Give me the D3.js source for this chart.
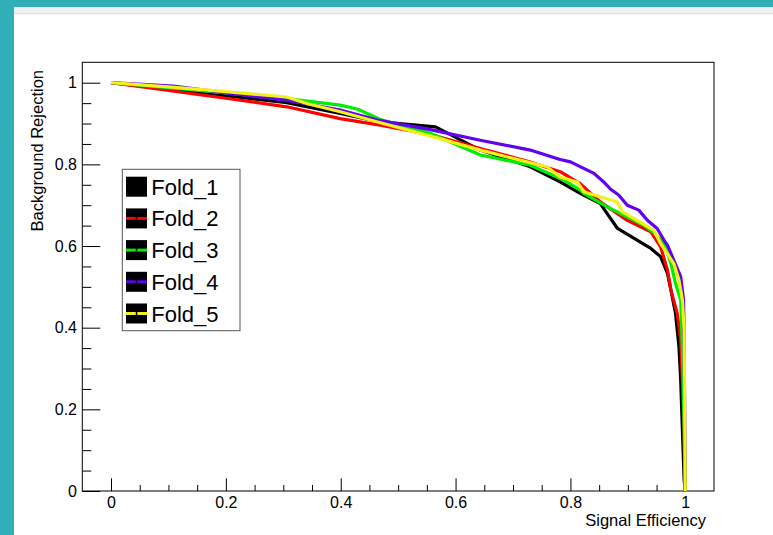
<!DOCTYPE html>
<html><head><meta charset="utf-8">
<script src="https://cdn.jsdelivr.net/npm/d3@7/dist/d3.min.js"></script>
<style>html,body{margin:0;padding:0;background:#fff;}svg{display:block;font-family:"Liberation Sans",Arial,sans-serif;}</style>
</head><body>
<svg id="c" width="773" height="535"></svg>
<script>
// ---- data (signal efficiency, background rejection) ----
const seriesNames = ["Fold_1", "Fold_2", "Fold_3", "Fold_4", "Fold_5"];
const seriesColors = ["#000000", "#ff0000", "#00ee00", "#6200f0", "#f2f21a"];
const fold1 = [[0,1],[0.1,0.985],[0.2,0.968],[0.306,0.951],[0.399,0.925],[0.469,0.904],[0.565,0.892],[0.643,0.835],[0.730,0.794],[0.782,0.757],[0.817,0.729],[0.852,0.704],[0.882,0.643],[0.940,0.594],[0.957,0.574],[0.969,0.533],[0.975,0.492],[0.983,0.435],[0.989,0.353],[0.992,0.272],[0.995,0.149],[0.998,0.027],[1,0]];
const fold2 = [[0,1],[0.1,0.981],[0.2,0.962],[0.306,0.941],[0.399,0.912],[0.469,0.896],[0.56,0.872],[0.643,0.839],[0.730,0.806],[0.782,0.782],[0.817,0.753],[0.852,0.708],[0.899,0.663],[0.940,0.635],[0.957,0.598],[0.969,0.541],[0.975,0.492],[0.986,0.435],[0.992,0.370],[0.995,0.272],[0.998,0.149],[1,0]];
const fold3 = [[0,1],[0.1,0.988],[0.2,0.975],[0.306,0.961],[0.399,0.945],[0.43,0.935],[0.469,0.91],[0.556,0.876],[0.643,0.823],[0.730,0.798],[0.788,0.762],[0.817,0.737],[0.823,0.729],[0.864,0.696],[0.928,0.651],[0.943,0.635],[0.963,0.606],[0.975,0.557],[0.983,0.508],[0.992,0.468],[0.996,0.3],[1,0]];
const fold4 = [[0,1],[0.108,0.992],[0.2,0.975],[0.306,0.957],[0.399,0.933],[0.469,0.907],[0.556,0.885],[0.643,0.859],[0.730,0.835],[0.782,0.812],[0.800,0.806],[0.841,0.778],[0.858,0.757],[0.870,0.739],[0.884,0.725],[0.899,0.700],[0.919,0.688],[0.934,0.663],[0.951,0.643],[0.963,0.614],[0.969,0.602],[0.975,0.582],[0.980,0.565],[0.992,0.525],[0.997,0.468],[0.998,0.370],[1,0]];
const fold5 = [[0,1],[0.1,0.99],[0.2,0.978],[0.306,0.965],[0.341,0.949],[0.399,0.929],[0.469,0.902],[0.56,0.868],[0.643,0.835],[0.759,0.794],[0.782,0.769],[0.812,0.757],[0.823,0.733],[0.882,0.708],[0.890,0.684],[0.945,0.639],[0.957,0.606],[0.980,0.557],[0.989,0.517],[0.995,0.468],[0.998,0.394],[1,0]];
const foldData = [fold1, fold2, fold3, fold4, fold5];
const xMajorTicks = [0, 0.2, 0.4, 0.6, 0.8, 1];
const yMajorTicks = [0, 0.2, 0.4, 0.6, 0.8, 1];
const xTickLabels = ["0", "0.2", "0.4", "0.6", "0.8", "1"];
const yTickLabels = ["0", "0.2", "0.4", "0.6", "0.8", "1"];
const xTitle = "Signal Efficiency";
const yTitle = "Background Rejection";

// ---- layout ----
const svg = d3.select("#c");
const L = 82.3, R = 714, T = 62.3, B = 491;
const x = d3.scaleLinear().domain([-0.05, 1.05]).range([L, R]);
const y = d3.scaleLinear().domain([0, 1.05]).range([B, T]);

// window decoration
svg.append("rect").attr("x", 0).attr("y", 0).attr("width", 773).attr("height", 535).attr("fill", "#fff");
svg.append("rect").attr("x", 14).attr("y", 7).attr("width", 759).attr("height", 7).attr("fill", "#efefef");
svg.append("rect").attr("x", 14).attr("y", 13).attr("width", 759).attr("height", 1.2).attr("fill", "#e0e0e0");
svg.append("rect").attr("x", 0).attr("y", 0).attr("width", 773).attr("height", 7).attr("fill", "#31afb7");
svg.append("rect").attr("x", 0).attr("y", 0).attr("width", 14).attr("height", 535).attr("fill", "#31afb7");

// minor ticks
const minorX = d3.range(-0.05, 1.0501, 0.05).map(v => +v.toFixed(2)).filter(v => v > -0.05 && v < 1.05 && !xMajorTicks.includes(v));
const minorY = d3.range(0, 1.0501, 0.05).map(v => +v.toFixed(2)).filter(v => v > 0 && v < 1.05 && !yMajorTicks.includes(v));

const gx = svg.append("g").attr("transform", `translate(0,${B})`);
gx.call(d3.axisBottom(x).tickValues(minorX).tickSize(-6).tickFormat(""));
gx.call(g => g.select(".domain").remove());
const gx2 = svg.append("g").attr("transform", `translate(0,${B})`);
gx2.call(d3.axisBottom(x).tickValues(xMajorTicks).tickSize(-12.7).tickPadding(5.2)
  .tickFormat((d, i) => xTickLabels[i]));
gx2.call(g => g.select(".domain").remove());

const gy = svg.append("g").attr("transform", `translate(${L},0)`);
gy.call(d3.axisLeft(y).tickValues(minorY).tickSize(-9).tickFormat(""));
gy.call(g => g.select(".domain").remove());
const gy2 = svg.append("g").attr("transform", `translate(${L},0)`);
gy2.call(d3.axisLeft(y).tickValues(yMajorTicks).tickSize(-18).tickPadding(5.3)
  .tickFormat((d, i) => yTickLabels[i]));
gy2.call(g => g.select(".domain").remove());

svg.selectAll(".tick line").attr("stroke", "#000").attr("stroke-width", 1);
svg.selectAll(".tick text").attr("font-size", 16).attr("fill", "#000")
  .attr("font-family", "'Liberation Sans', Arial, sans-serif");

// frame
svg.append("rect").attr("x", L).attr("y", T).attr("width", R - L).attr("height", B - T)
  .attr("fill", "none").attr("stroke", "#000").attr("stroke-width", 1);

// curves
const line = d3.line().x(d => x(d[0])).y(d => y(d[1]));
foldData.forEach((data, i) => {
  svg.append("path").datum(data).attr("d", line)
    .attr("fill", "none").attr("stroke", seriesColors[i]).attr("stroke-width", 3.2)
    .attr("stroke-linejoin", "round").attr("stroke-linecap", "butt");
});

// titles
svg.append("text").attr("x", 706).attr("y", 526).attr("text-anchor", "end")
  .attr("font-size", 16.5).attr("fill", "#000").text(xTitle);
svg.append("text").attr("transform", "translate(42.5,70) rotate(-90)").attr("text-anchor", "end")
  .attr("font-size", 16.5).attr("fill", "#000").text(yTitle);

// legend
const lg = svg.append("g");
lg.append("rect").attr("x", 122.3).attr("y", 169.3).attr("width", 117.7).attr("height", 161.4)
  .attr("fill", "#fff").attr("stroke", "#555").attr("stroke-width", 1);
seriesNames.forEach((name, i) => {
  const cy = 186.7 + 31.7 * i;
  lg.append("rect").attr("x", 126).attr("y", cy - 10).attr("width", 21).attr("height", 20).attr("fill", "#000");
  lg.append("line").attr("x1", 126).attr("x2", 147).attr("y1", cy).attr("y2", cy)
    .attr("stroke", seriesColors[i]).attr("stroke-width", 3);
  lg.append("rect").attr("x", 135.8).attr("y", cy - 2).attr("width", 1.5).attr("height", 4).attr("fill", "#000");
  lg.append("text").attr("x", 151.3).attr("y", cy + 8).attr("font-size", 22).attr("fill", "#000").text(name);
});
</script>
</body></html>
